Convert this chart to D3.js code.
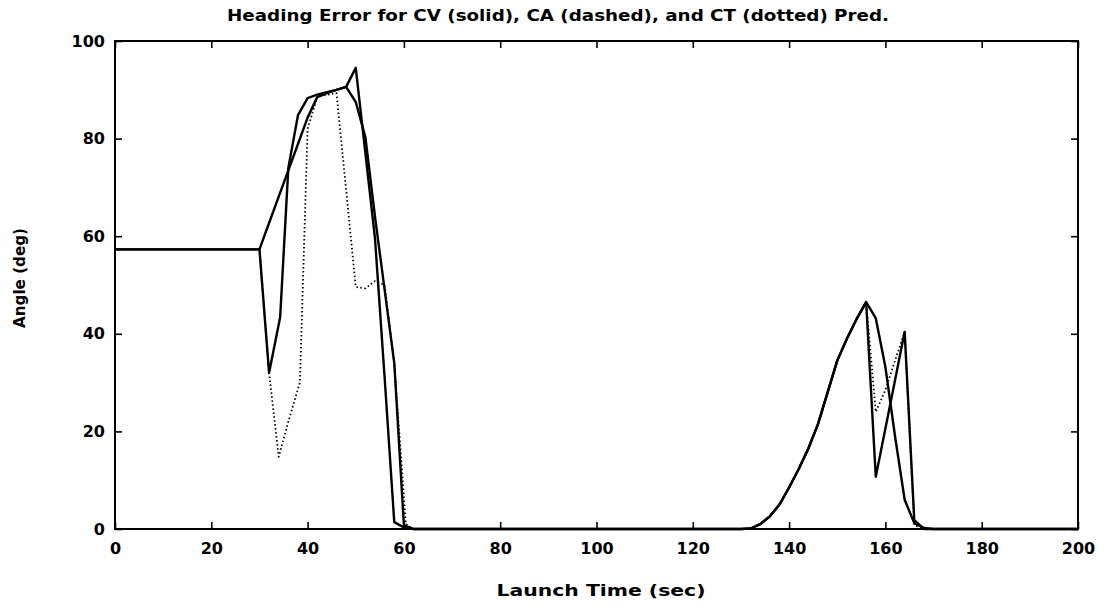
<!DOCTYPE html>
<html lang="en">
<head>
<meta charset="UTF-8">
<title>Heading Error</title>
<script src="https://d3js.org/d3.v7.min.js"></script>
<style>
  body { margin: 0; background: #fff; }
  text { font-family: "DejaVu Sans", sans-serif; font-weight: bold; fill: #000; }
</style>
</head>
<body>
<svg id="canvas"></svg>
<script>
// launch time (sec) and heading error (deg)
let cvTime  = [0, 30, 32, 34, 36, 38, 40, 42, 44, 46, 48, 50, 52, 54, 56, 58, 60, 62,
               130, 132, 134, 136, 138, 140, 142, 144, 146, 148, 150, 152, 154, 156, 158, 160, 162, 164, 166, 168, 170, 200]
let cvAngle = [57.3, 57.3, 62.7, 68.1, 73.5, 78.9, 84.3, 88.5, 89.3, 90, 90.6, 94.5, 77, 59.5, 31, 1.4, 0.3, 0,
               0, 0.1, 1, 2.6, 5, 8.5, 12.3, 16.5, 21.5, 28, 34.5, 39, 43, 46.5, 43.2, 33.2, 19, 6, 1.2, 0.2, 0, 0]

let caTime  = [0, 30, 32, 34.3, 36, 38, 40, 42, 44, 46, 48, 50, 52, 54, 56, 58, 60, 62,
               130, 132, 134, 136, 138, 140, 142, 144, 146, 148, 150, 152, 154, 156, 158, 160, 162, 164, 166, 168, 200]
let caAngle = [57.3, 57.3, 32, 43.4, 74, 84.8, 88.3, 89, 89.5, 90, 90.6, 87.5, 80.3, 64, 49, 34, 0.8, 0,
               0, 0.1, 1, 2.6, 5, 8.5, 12.3, 16.5, 21.5, 28, 34.5, 39, 43, 46.5, 10.7, 20.6, 30.5, 40.4, 1.8, 0, 0]

let ctTime  = [0, 30, 32, 34, 36, 38.4, 40, 42, 44, 46, 48, 50, 52, 54, 56, 58, 60.4, 62,
               130, 132, 134, 136, 138, 140, 142, 144, 146, 148, 150, 152, 154, 156, 158, 160, 162, 164, 166, 168, 200]
let ctAngle = [57.3, 57.3, 32, 14.8, 22, 30, 82, 88.5, 89, 89.3, 69.5, 49.6, 49.3, 50.8, 50, 34, 1, 0,
               0, 0.1, 1, 2.6, 5, 8.5, 12.3, 16.5, 21.5, 28, 34.5, 39, 43, 46.5, 24, 28.5, 34.5, 40.4, 0.8, 0, 0]

let xTicks = [0, 20, 40, 60, 80, 100, 120, 140, 160, 180, 200]
let yTicks = [0, 20, 40, 60, 80, 100]

let width = 1108
let height = 608
let padLeft = 115, padRight = 1078, padTop = 41, padBottom = 529

let canvas = d3.select('#canvas')
canvas.attr('width', width).attr('height', height)

let xScale = d3.scaleLinear().domain([0, 200]).range([padLeft, padRight])
let yScale = d3.scaleLinear().domain([0, 100]).range([padBottom, padTop])

let drawAxes = () => {
    let tick = -7
    let xAxis = d3.axisBottom(xScale).tickValues(xTicks).tickSize(tick).tickPadding(14).tickFormat(d3.format('d'))
    let yAxis = d3.axisLeft(yScale).tickValues(yTicks).tickSize(tick).tickPadding(10).tickFormat(d3.format('d'))
    let xTop = d3.axisTop(xScale).tickValues(xTicks).tickSize(tick).tickFormat('')
    let yRight = d3.axisRight(yScale).tickValues(yTicks).tickSize(tick).tickFormat('')

    canvas.append('g').attr('transform', 'translate(0,' + padBottom + ')').call(xAxis)
    canvas.append('g').attr('transform', 'translate(' + padLeft + ',0)').call(yAxis)
    canvas.append('g').attr('transform', 'translate(0,' + padTop + ')').call(xTop)
    canvas.append('g').attr('transform', 'translate(' + padRight + ',0)').call(yRight)

    canvas.selectAll('.domain').remove()
    canvas.selectAll('.tick line').attr('stroke', '#000').attr('stroke-width', 1.6)
    canvas.selectAll('.tick text').style('font-size', '16px').attr('fill', '#000')

    canvas.append('rect')
        .attr('x', padLeft).attr('y', padTop)
        .attr('width', padRight - padLeft).attr('height', padBottom - padTop)
        .attr('fill', 'none').attr('stroke', '#000').attr('stroke-width', 2)
}

let drawLine = (times, angles, strokeW, dash) => {
    let pts = times.map((t, i) => [t, angles[i]])
    let line = d3.line().x(d => xScale(d[0])).y(d => yScale(d[1]))
    canvas.append('path')
        .attr('d', line(pts))
        .attr('fill', 'none')
        .attr('stroke', '#000')
        .attr('stroke-width', strokeW)
        .attr('stroke-linejoin', 'round')
        .attr('stroke-dasharray', dash)
}

let drawLabels = () => {
    canvas.append('text')
        .attr('x', 558).attr('y', 21)
        .attr('text-anchor', 'middle').style('font-size', '15px')
        .attr('textLength', 662).attr('lengthAdjust', 'spacingAndGlyphs')
        .text('Heading Error for CV (solid), CA (dashed), and CT (dotted) Pred.')
    canvas.append('text')
        .attr('x', 601).attr('y', 596)
        .attr('text-anchor', 'middle').style('font-size', '15px')
        .attr('textLength', 209).attr('lengthAdjust', 'spacingAndGlyphs')
        .text('Launch Time (sec)')
    canvas.append('text')
        .attr('transform', 'translate(25,278) rotate(-90)')
        .attr('text-anchor', 'middle').style('font-size', '15px')
        .attr('textLength', 100).attr('lengthAdjust', 'spacingAndGlyphs')
        .text('Angle (deg)')
}

drawAxes()
drawLine(ctTime, ctAngle, 1.8, '1.5,2.5')
drawLine(caTime, caAngle, 2.4, null)
drawLine(cvTime, cvAngle, 2.4, null)
drawLabels()
</script>
</body>
</html>
